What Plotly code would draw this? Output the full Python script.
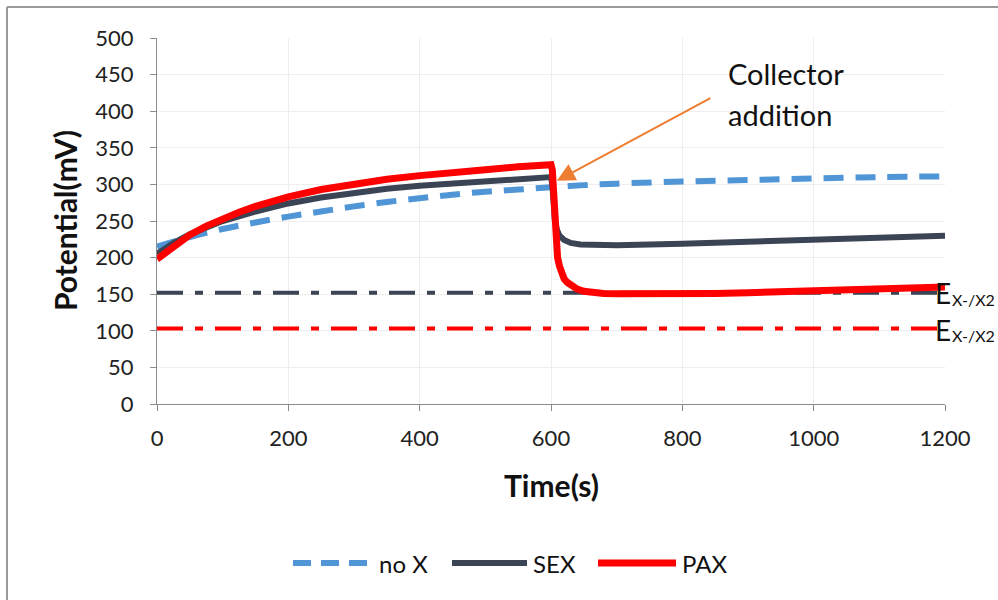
import plotly.graph_objects as go

# ---- data ----
t_nox = [0, 50, 100, 150, 200, 250, 300, 350, 400, 450, 500, 550, 600, 650, 700, 800, 900, 1000, 1100, 1200]
v_nox = [215, 228, 239, 248, 256, 263, 270, 276, 281, 286, 290, 293, 296, 299, 301, 304, 306, 308, 310, 311]

t_sex = [0, 25, 50, 75, 100, 150, 200, 250, 300, 350, 400, 450, 500, 550, 600, 602, 604, 606, 609, 613,
         620, 630, 645, 670, 700, 800, 900, 1000, 1100, 1200]
v_sex = [205, 220, 232, 242, 250, 263, 274, 282, 289, 294, 298, 301, 304, 307, 310, 300, 270, 250, 238, 230,
         224, 220, 218, 217, 217, 219, 222, 225, 228, 230]

t_pax = [0, 10, 25, 50, 75, 100, 125, 150, 175, 200, 250, 300, 350, 400, 450, 500, 550, 600, 602, 604, 606,
         608, 610, 613, 616, 620, 625, 630, 640, 650, 665, 680, 700, 750, 800, 850, 900, 950, 1000, 1100, 1200]
v_pax = [198, 205, 215, 231, 243, 253, 262, 270, 277, 283, 293, 301, 307, 312, 317, 320, 324, 327, 320, 290, 250,
         220, 200, 188, 178, 171, 166, 162, 157, 154, 152, 151, 150.5, 150, 150, 151, 152, 153, 155, 157, 160]

t_ref = [0, 1200]
e_sex = [152, 152]
e_pax = [103, 103]

x_ticks = [0, 200, 400, 600, 800, 1000, 1200]
y_ticks = [0, 50, 100, 150, 200, 250, 300, 350, 400, 450, 500]

series_names = ["no X", "SEX", "PAX"]

FONT = "Lato"
BLUE = "#5096d6"
NAVY = "#3b4455"
RED = "#ff0000"
DASHDOT = "26px,12px,8px,12px"
BLUEDASH = "20px,12px"

fig = go.Figure()
fig.add_trace(go.Scatter(x=t_ref, y=e_sex, mode="lines", showlegend=False,
                         line=dict(color=NAVY, width=4, dash=DASHDOT)))
fig.add_trace(go.Scatter(x=t_ref, y=e_pax, mode="lines", showlegend=False,
                         line=dict(color=RED, width=4, dash=DASHDOT)))
fig.add_trace(go.Scatter(x=t_nox, y=v_nox, mode="lines", name=series_names[0], showlegend=False,
                         line=dict(color=BLUE, width=6, dash=BLUEDASH, shape="spline")))
fig.add_trace(go.Scatter(x=t_sex, y=v_sex, mode="lines", name=series_names[1], showlegend=False,
                         line=dict(color=NAVY, width=6)))
fig.add_trace(go.Scatter(x=t_pax, y=v_pax, mode="lines", name=series_names[2], showlegend=False,
                         line=dict(color=RED, width=7)))

axis_common = dict(showline=True, linecolor="#8c8c8c", linewidth=1, ticks="outside",
                   ticklen=6, tickcolor="#8c8c8c", showgrid=True, gridcolor="#eeeeee",
                   zeroline=False, tickfont=dict(family=FONT, size=22, color="#222"))

fig.update_xaxes(range=[0, 1200], tickvals=x_ticks, ticklabelstandoff=9, **axis_common)
fig.update_yaxes(range=[0, 500], tickvals=y_ticks, ticklabelstandoff=12, **axis_common)

# figure fills the whole 998x600 page (body margin removed); plot area x 157..945, y 38..404
W, H = 998, 600
L, T, PW, PH = 157, 38, 788, 366


def px(xf):
    return (xf - L) / PW


def py(yf):
    return (T + PH - yf) / PH


leg_y = py(563)
legend_items = [
    (series_names[0], BLUE, 6, "18px,10px", 293, 372, 377),
    (series_names[1], NAVY, 6, "solid", 452, 527, 531),
    (series_names[2], RED, 7, "solid", 598, 676, 680),
]
shapes = [
    dict(type="line", xref="paper", yref="paper", x0=px(7), x1=px(998), y0=py(7), y1=py(7),
         line=dict(color="#9a9a9a", width=2)),
    dict(type="line", xref="paper", yref="paper", x0=px(7), x1=px(7), y0=py(7), y1=py(600),
         line=dict(color="#9a9a9a", width=2)),
]
annotations = []
for name, col, w, dash, x0, x1, xt in legend_items:
    shapes.append(dict(type="line", xref="paper", yref="paper", x0=px(x0), x1=px(x1),
                       y0=leg_y, y1=leg_y, line=dict(color=col, width=w, dash=dash)))
    annotations.append(dict(text=name, xref="paper", yref="paper", x=px(xt), y=leg_y,
                            xanchor="left", yanchor="middle", showarrow=False,
                            font=dict(family=FONT, size=24, color="#111")))

annotations += [
    dict(text="<b>Time(s)</b>", xref="paper", yref="paper", x=0.5, y=py(485), showarrow=False,
         font=dict(family=FONT, size=30, color="#111"), xanchor="center", yanchor="middle"),
    dict(text="<b>Potential(mV)</b>", xref="paper", yref="paper", x=px(65), y=0.5,
         showarrow=False, textangle=-90, font=dict(family=FONT, size=30, color="#111"),
         xanchor="center", yanchor="middle"),
    dict(text="Collector", xref="x", yref="y", x=866, y=451, showarrow=False,
         xanchor="left", yanchor="middle", font=dict(family=FONT, size=29, color="#111")),
    dict(text="addition", xref="x", yref="y", x=866, y=396, showarrow=False,
         xanchor="left", yanchor="middle", font=dict(family=FONT, size=29, color="#111")),
    dict(text="", xref="x", yref="y", x=609, y=305, axref="x", ayref="y", ax=845, ay=419,
         showarrow=True, arrowcolor="#ed7d31", arrowwidth=2, arrowhead=2, arrowsize=1.8),
    dict(text="E", xref="paper", yref="y", x=px(933), y=151, showarrow=False,
         xanchor="left", yanchor="middle", font=dict(family=FONT, size=28, color="#111")),
    dict(text="X-/X2", xref="paper", yref="y", x=px(950), y=143, showarrow=False,
         xanchor="left", yanchor="middle", font=dict(family=FONT, size=16, color="#111")),
    dict(text="E", xref="paper", yref="y", x=px(933), y=101, showarrow=False,
         xanchor="left", yanchor="middle", font=dict(family=FONT, size=28, color="#111")),
    dict(text="X-/X2", xref="paper", yref="y", x=px(950), y=93, showarrow=False,
         xanchor="left", yanchor="middle", font=dict(family=FONT, size=16, color="#111")),
]

fig.update_layout(
    width=W, height=H,
    margin=dict(l=L, r=W - L - PW, t=T, b=H - T - PH),
    paper_bgcolor="white", plot_bgcolor="white",
    font=dict(family=FONT, color="#111"),
    showlegend=False,
    shapes=shapes,
    annotations=annotations,
)

fig.write_html(
    "out.html",
    config={"displayModeBar": False},
    post_script="document.body.style.margin='0';document.body.style.overflow='hidden';",
)
